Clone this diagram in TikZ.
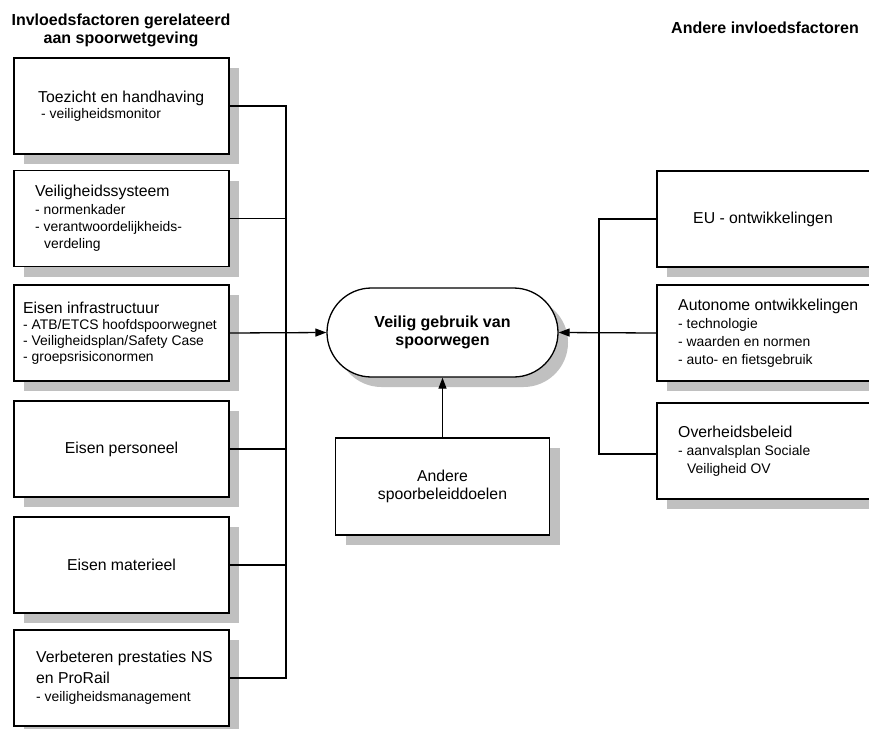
\documentclass[tikz,border=0pt]{standalone}
\usepackage{fontspec}
\setmainfont{Liberation Sans}
\usetikzlibrary{arrows.meta,shapes.misc,shadows,calc}
\definecolor{shadowgray}{RGB}{192,192,192}
\newcommand{\txtA}{\fontsize{15.8}{18}\selectfont}
\newcommand{\txtB}{\fontsize{13.9}{17}\selectfont}
\newcommand{\txtH}{\fontsize{16}{18}\selectfont\bfseries}
\tikzset{
  sbox/.style={draw, fill=white, line width=1.3pt, inner sep=0pt,
    drop shadow={shadow xshift=10pt, shadow yshift=-10pt, fill=shadowgray, opacity=1}},
  lbox/.style={sbox, minimum width=215pt, minimum height=96pt},
  rbox/.style={sbox, minimum width=243pt, minimum height=96pt},
  oval/.style={sbox, rounded rectangle, minimum width=231pt, minimum height=89pt},
  txt/.style={inner sep=0pt, align=left, font=\txtA, anchor=west},
  ctxt/.style={inner sep=0pt, align=center, font=\txtA},
  hdr/.style={inner sep=0pt, align=center, font=\txtH, anchor=north},
  conn/.style={line width=1.3pt},
  arr/.style={line width=1.3pt, -{Triangle[length=11pt,width=8pt]}}
}
\begin{document}
\begin{tikzpicture}[x=1pt,y=-1pt]
\useasboundingbox (0,0) rectangle (869,728);
\clip (0,0) rectangle (869,728);
\fill[white] (0,0) rectangle (869,728);

% headers
\node[hdr] (hl) at (121,13.3) {Invloedsfactoren gerelateerd\\aan spoorwetgeving};
\node[hdr] (hr) at (765,21.6) {Andere invloedsfactoren};

% left boxes
\node[lbox] (b1) at (121.5,106) {};
\node[lbox] (b2) at (121.5,218.5) {};
\node[lbox] (b3) at (121.5,333) {};
\node[lbox] (b4) at (121.5,449) {};
\node[lbox] (b5) at (121.5,565) {};
\node[lbox] (b6) at (121.5,678) {};

\node[txt] (t1) at (38,106) {Toezicht en handhaving\\[-2pt]{\txtB\hspace*{3pt}- veiligheidsmonitor}};
\node[txt] (t2) at (35,218.5) {Veiligheidssysteem\\{\txtB - normenkader}\\[-1pt]{\txtB - verantwoordelijkheids-}\\[-1pt]{\txtB\hspace*{9pt}verdeling}};
\node[txt] (t3) at (23,333) {Eisen infrastructuur\\[-2pt]{\txtB - ATB/ETCS hoofdspoorwegnet}\\[-2pt]{\txtB - Veiligheidsplan/Safety Case}\\[-2pt]{\txtB - groepsrisiconormen}};
\node[ctxt] (t4) at (b4.center) {Eisen personeel};
\node[ctxt] (t5) at (b5.center) {Eisen materieel};
\node[txt] (t6) at (36,678) {Verbeteren prestaties NS\\[3pt]en ProRail\\{\txtB - veiligheidsmanagement}};

% central
\node[oval] (ov) at (442.5,332.5) {};
\node[ctxt, font=\txtH] (tov) at (ov.center) {Veilig gebruik van\\spoorwegen};
\node[sbox, minimum width=214pt, minimum height=97pt] (ad) at (442.5,486.5) {};
\node[ctxt] (tad) at (ad.center) {Andere\\spoorbeleiddoelen};

% right boxes
\node[rbox] (eu) at (778.5,219) {};
\node[rbox] (au) at (778.5,333) {};
\node[rbox] (oh) at (778.5,451) {};
\node[txt] (teu) at (693,219) {EU - ontwikkelingen};
\node[txt] (tau) at (678,333) {Autonome ontwikkelingen\\{\txtB - technologie}\\{\txtB - waarden en normen}\\{\txtB - auto- en fietsgebruik}};
\node[txt] (toh) at (678,451) {Overheidsbeleid\\{\txtB - aanvalsplan Sociale}\\{\txtB\hspace*{9pt}Veiligheid OV}};

% bus coordinates
\coordinate (lx) at (286,0);
\coordinate (rx) at (599,0);
\coordinate (ohc) at ([yshift=-3pt]oh.west);

% left connectors
\draw[conn] (b1.east) -- (b1.east -| lx) -- (b6.east -| lx) -- (b6.east);
\draw[conn] (b2.east) -- (b2.east -| lx);
\draw[conn] (b4.east) -- (b4.east -| lx);
\draw[conn] (b5.east) -- (b5.east -| lx);
\draw[arr] (b3.east) -- (ov.west);

% right connectors
\draw[conn] (eu.west) -- (eu.west -| rx) -- (ohc -| rx) -- (ohc);
\draw[arr] (au.west) -- (ov.east);

% bottom
\draw[arr] (ad.north) -- (ov.south);
\end{tikzpicture}
\end{document}
